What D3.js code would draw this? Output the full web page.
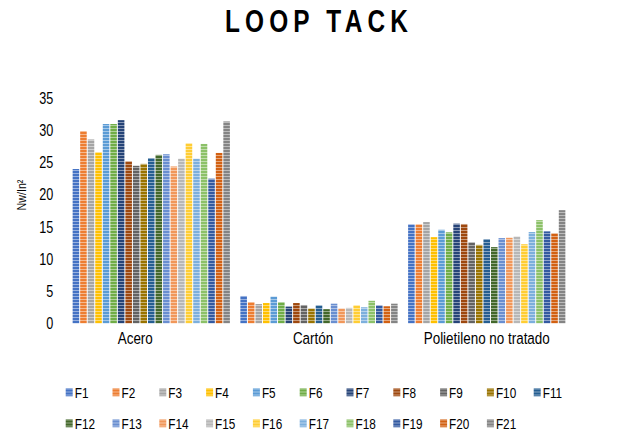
<!DOCTYPE html>
<html>
<head>
<meta charset="utf-8">
<script src="https://cdn.jsdelivr.net/npm/d3@7"></script>
<style>
  html, body { margin: 0; padding: 0; background: #fff; }
  svg { display: block; }
  text { font-family: "Liberation Sans", Arial, sans-serif; fill: #000; }
</style>
</head>
<body>
<svg id="chart" width="623" height="435"></svg>
<script>
// Loop tack results per substrate and formulation
const categories = ["Acero", "Cartón", "Polietileno no tratado"];
const series = ["F1","F2","F3","F4","F5","F6","F7","F8","F9","F10","F11",
                "F12","F13","F14","F15","F16","F17","F18","F19","F20","F21"];
const acero = [24.0, 29.9, 28.6, 26.6, 31.0, 31.0, 31.6, 25.2, 24.5, 24.8, 25.7,
               26.2, 26.3, 24.4, 25.6, 28.0, 25.6, 27.9, 22.5, 26.5, 31.4];
const carton = [4.25, 3.3, 3.0, 3.15, 4.15, 3.3, 2.6, 3.15, 2.85, 2.3, 2.8,
                2.2, 3.05, 2.3, 2.4, 2.8, 2.5, 3.5, 2.8, 2.65, 3.05];
const polietileno = [15.4, 15.4, 15.75, 13.4, 14.55, 14.15, 15.5, 15.45, 12.6, 12.2, 13.1,
                     11.85, 13.25, 13.3, 13.5, 12.3, 14.2, 16.05, 14.3, 14.0, 17.6];
const yTicks = [0, 5, 10, 15, 20, 25, 30, 35];
const colors = ["#4472C4","#ED7D31","#A5A5A5","#FFC000","#5B9BD5","#70AD47","#264478",
                "#9E480E","#636363","#997300","#255E91","#43682B","#698ED0","#F1975A",
                "#B7B7B7","#FFCD33","#7CAFDD","#8CC168","#335AA1","#D26012","#848484"];

const valuesByCategory = [acero, carton, polietileno];

// Narrow lettering: regular sans squeezed horizontally
const NARROW = 0.79;

const svg = d3.select("#chart");
const plot = { left: 67.4, right: 570.6, top: 98.3, bottom: 323.3 };

const x0 = d3.scaleBand().domain(categories)
  .range([plot.left, plot.right]).paddingInner(0.058).paddingOuter(0.029);
const x1 = d3.scaleBand().domain(series)
  .range([0, x0.bandwidth()]).paddingInner(0.13).paddingOuter(0.05);
const y = d3.scaleLinear().domain([0, 35]).range([plot.bottom, plot.top]);
const color = d3.scaleOrdinal().domain(series).range(colors);

// Horizontal-stripe fills, one per series
const defs = svg.append("defs");
series.forEach((s, i) => {
  const c = color(s);
  const p = defs.append("pattern")
    .attr("id", "pat" + i)
    .attr("patternUnits", "userSpaceOnUse")
    .attr("width", 8).attr("height", 3);
  p.append("rect").attr("width", 8).attr("height", 3).attr("fill", c);
  p.append("rect").attr("y", 2).attr("width", 8).attr("height", 1)
    .attr("fill", d3.interpolateRgb(c, "#ffffff")(0.45));
});

// Title
svg.append("g")
  .attr("transform", `translate(319,32) scale(0.8,1)`)
  .append("text")
  .attr("text-anchor", "middle")
  .style("font-weight", "bold")
  .style("font-size", "30.5px")
  .style("letter-spacing", "6.5px")
  .text("LOOP TACK");

// Y axis
const yAxis = svg.append("g")
  .attr("transform", `translate(${plot.left - 14},0)`)
  .call(d3.axisLeft(y).tickValues(yTicks).tickSize(0).tickPadding(0));
yAxis.select(".domain").remove();
yAxis.selectAll("text")
  .attr("x", 0)
  .attr("transform", `scale(${NARROW},1)`)
  .style("font-size", "16px");

// Y axis title
svg.append("text")
  .attr("transform", `translate(26,195) rotate(-90) scale(${NARROW},1)`)
  .attr("text-anchor", "middle")
  .style("font-size", "13.5px")
  .text("Nw/In²");

// Bars
const groups = svg.append("g").selectAll("g")
  .data(categories)
  .join("g")
  .attr("transform", d => `translate(${x0(d)},0)`);

groups.selectAll("rect")
  .data((d, ci) => series.map((s, i) => ({ s, i, v: valuesByCategory[ci][i] })))
  .join("rect")
  .attr("x", d => x1(d.s))
  .attr("y", d => y(d.v))
  .attr("width", x1.bandwidth())
  .attr("height", d => y(0) - y(d.v))
  .attr("fill", d => `url(#pat${d.i})`);

// X axis labels
const labelShift = { "Acero": -16, "Cartón": -6, "Polietileno no tratado": 0 };
const xAxis = svg.append("g")
  .attr("transform", `translate(0,${plot.bottom})`)
  .call(d3.axisBottom(x0).tickSize(0).tickPadding(9));
xAxis.select(".domain").remove();
xAxis.selectAll(".tick text")
  .attr("x", d => labelShift[d] / NARROW)
  .attr("transform", `scale(${NARROW},1)`)
  .style("font-size", "17px");

// Legend: two rows of swatches
const legend = svg.append("g");
const perRow = 11, colStep = 46.8;
const items = legend.selectAll("g")
  .data(series)
  .join("g")
  .attr("transform", (d, i) => {
    const col = i % perRow, row = Math.floor(i / perRow);
    return `translate(${65.7 + col * colStep},${392.5 + row * 31})`;
  });
items.append("rect")
  .attr("x", 0).attr("y", -4.2)
  .attr("width", 7).attr("height", 8)
  .attr("fill", (d, i) => `url(#pat${i})`);
items.append("text")
  .attr("transform", `translate(9,0) scale(0.76,1)`)
  .attr("dy", "0.36em")
  .style("font-size", "15.5px")
  .text(d => d);
</script>
</body>
</html>
